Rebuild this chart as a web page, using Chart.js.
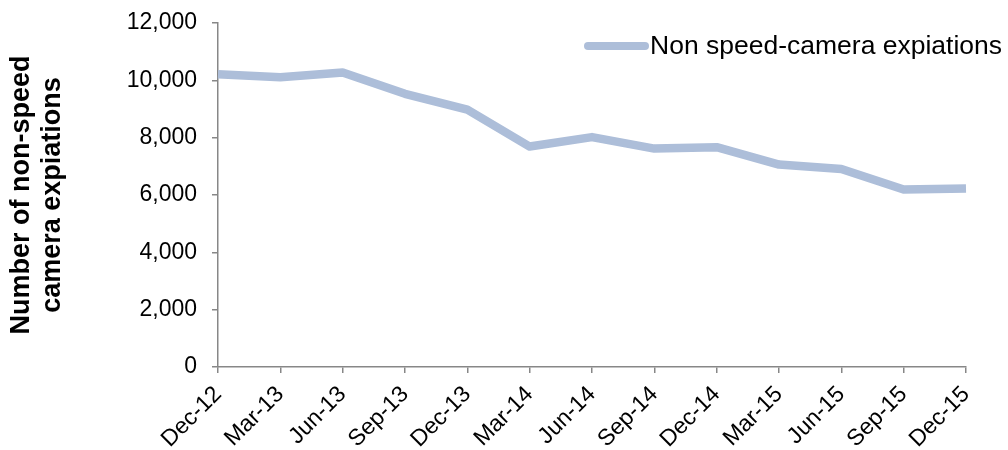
<!DOCTYPE html>
<html>
<head>
<meta charset="utf-8">
<script src="https://cdn.jsdelivr.net/npm/chart.js@4/dist/chart.umd.min.js"></script>
<style>
  html, body { margin: 0; padding: 0; background: #fff; }
  #wrap { width: 1008px; height: 450px; }
</style>
</head>
<body>
<div id="wrap"><canvas id="chart" width="1008" height="450"></canvas></div>
<script>
const quarters = ['Dec-12', 'Mar-13', 'Jun-13', 'Sep-13', 'Dec-13', 'Mar-14', 'Jun-14',
                  'Sep-14', 'Dec-14', 'Mar-15', 'Jun-15', 'Sep-15', 'Dec-15'];
const expiations = [10210, 10110, 10270, 9530, 8980, 7690, 8020, 7620, 7670, 7060, 6910, 6190, 6230];
const seriesName = 'Non speed-camera expiations';
const yTitle = ['Number of non-speed', 'camera expiations'];

const LINE_COLOR = '#adbed9';
const AXIS_COLOR = '#878787';
const FONT = '"Liberation Sans", Arial, sans-serif';

// легенда поверх области графика, как в Excel
const legendPlugin = {
    id: 'cornerLegend',
    afterDraw(chart) {
        const ctx = chart.ctx;
        const y = 46;
        const x0 = chart.width - 420;
        ctx.save();
        ctx.strokeStyle = LINE_COLOR;
        ctx.lineWidth = 8;
        ctx.lineCap = 'round';
        ctx.beginPath();
        ctx.moveTo(x0, y);
        ctx.lineTo(x0 + 57, y);
        ctx.stroke();
        ctx.fillStyle = '#000';
        ctx.font = '26.5px ' + FONT;
        ctx.textBaseline = 'middle';
        ctx.fillText(seriesName, x0 + 62, y + 1);
        ctx.restore();
    }
};

new Chart(document.getElementById('chart'), {
    type: 'line',
    data: {
        labels: quarters,
        datasets: [{
            label: seriesName,
            data: expiations,
            borderColor: LINE_COLOR,
            borderWidth: 8.5,
            borderJoinStyle: 'round',
            pointRadius: 0,
            tension: 0,
            fill: false,
            clip: false
        }]
    },
    options: {
        responsive: false,
        animation: false,
        layout: { padding: { top: 23, right: 42, left: 0, bottom: 0 } },
        plugins: { legend: { display: false }, tooltip: { enabled: false } },
        scales: {
            x: {
                type: 'category',
                offset: false,
                afterFit: (s) => { s.height = 83; },
                grid: { drawOnChartArea: false, drawTicks: true, tickLength: 6, color: AXIS_COLOR, lineWidth: 1.5 },
                border: { color: AXIS_COLOR, width: 1.5 },
                ticks: {
                    autoSkip: false,
                    maxRotation: 45,
                    minRotation: 45,
                    padding: 8,
                    color: '#000',
                    font: { family: FONT, size: 23 }
                }
            },
            y: {
                min: 0,
                max: 12000,
                afterFit: (s) => { s.width = 218; s.paddingTop = 0; s.paddingBottom = 0; },
                grid: { drawOnChartArea: false, drawTicks: true, tickLength: 6, color: AXIS_COLOR, lineWidth: 1.5 },
                border: { color: AXIS_COLOR, width: 1.5 },
                ticks: {
                    stepSize: 2000,
                    padding: 15,
                    color: '#000',
                    font: { family: FONT, size: 23 },
                    callback: (v) => v.toLocaleString('en-US')
                },
                title: {
                    display: true,
                    text: yTitle,
                    color: '#000',
                    padding: { top: 6, bottom: 0 },
                    font: { family: FONT, size: 27, weight: 'bold', lineHeight: 1.15 }
                }
            }
        }
    },
    plugins: [legendPlugin]
});
</script>
</body>
</html>
